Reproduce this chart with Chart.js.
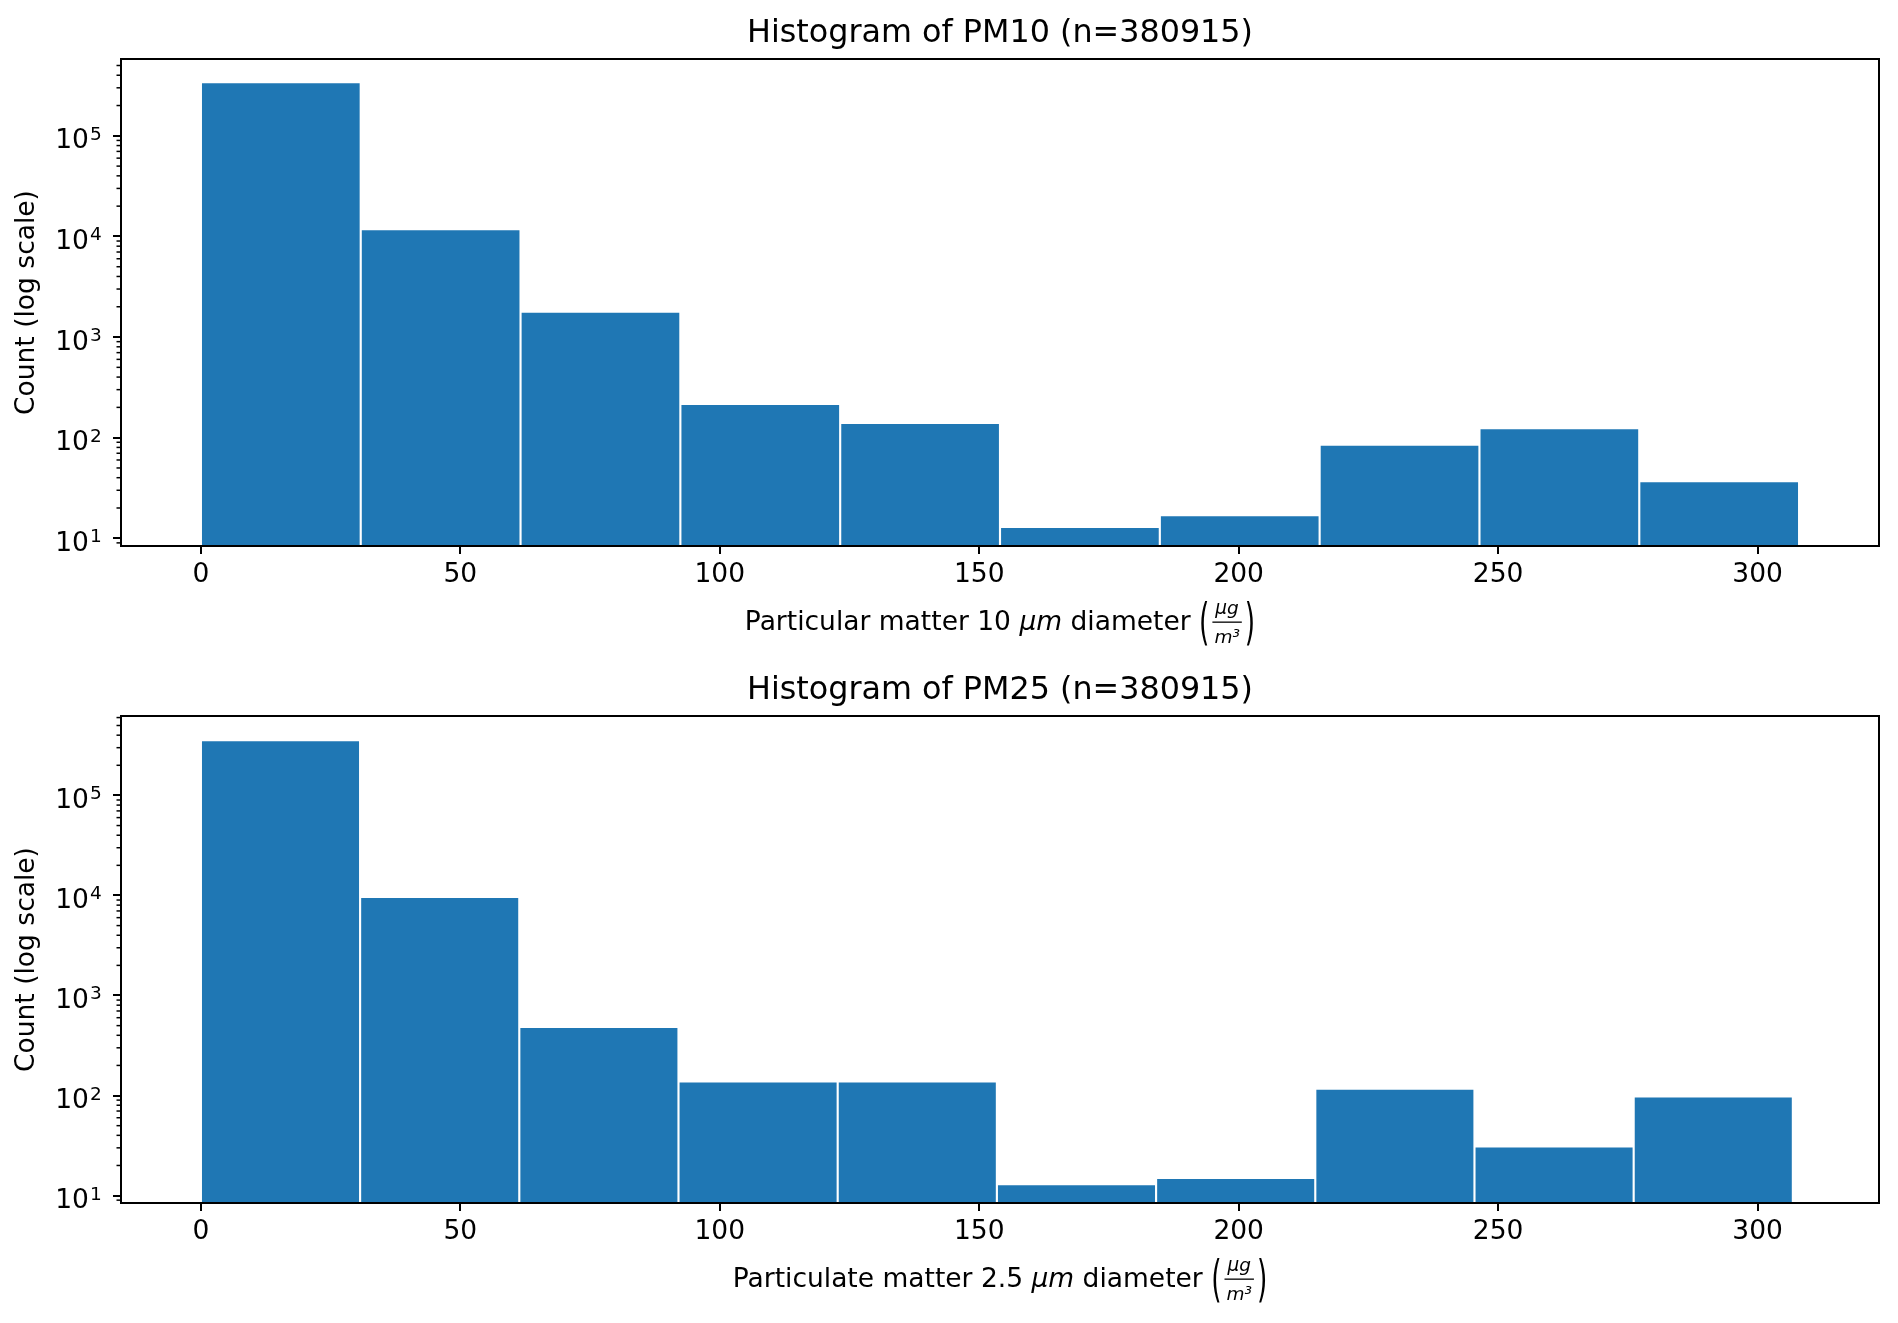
<!DOCTYPE html>
<html>
<head>
<meta charset="utf-8">
<script src="https://cdn.jsdelivr.net/npm/chart.js@4.4.1/dist/chart.umd.min.js"></script>
<style>
  html, body { margin: 0; padding: 0; background: #fff; overflow: hidden; }
  #wrap { position: relative; width: 1898px; height: 1323px; }
  .box { position: absolute; left: 0; width: 1898px; }
</style>
</head>
<body>
<div id="wrap">
  <div class="box" style="top:0;height:660px"><canvas id="pm10"></canvas></div>
  <div class="box" style="top:660px;height:663px"><canvas id="pm25"></canvas></div>
</div>
<script>
// tick values
const xTicks = [0, 50, 100, 150, 200, 250, 300];
const yTicks = [10, 100, 1000, 10000, 100000];

// PM10 histogram (bin edges + counts)
const pm10Edges = [0, 30.8, 61.6, 92.4, 123.2, 154.0, 184.8, 215.6, 246.4, 277.2, 308.0];
const pm10Counts = [342000, 11800, 1790, 216, 140, 13, 17, 85, 124, 37];

// PM2.5 histogram
const pm25Edges = [0, 30.68, 61.36, 92.04, 122.72, 153.4, 184.08, 214.76, 245.44, 276.12, 306.8];
const pm25Counts = [356000, 9690, 486, 138, 138, 13, 15, 117, 31, 98];

const FONT = '"DejaVu Sans"';
Chart.defaults.color = '#000';
Chart.defaults.font.family = FONT;

function drawParen(ctx, ch, x, baseline) {
  ctx.save();
  ctx.font = '26.5px ' + FONT;
  ctx.textAlign = 'left';
  ctx.textBaseline = 'middle';
  ctx.translate(x, baseline - 4.5);
  ctx.scale(1, 1.9);
  ctx.fillText(ch, 0, 0);
  ctx.restore();
}

function drawXLabel(ctx, cx, baseline, prefix) {
  const normal = '26.5px ' + FONT;
  const ital = 'italic 26.5px ' + FONT;
  const small = 'italic 18.5px ' + FONT;
  ctx.font = normal;
  const w1 = ctx.measureText(prefix).width;
  const w3 = ctx.measureText(' diameter ').width;
  const wp = ctx.measureText('(').width;
  ctx.font = ital;
  const w2 = ctx.measureText('\u03bcm').width;
  ctx.font = small;
  const fw = Math.max(ctx.measureText('\u03bcg').width, ctx.measureText('m\u00b3').width) + 6;
  const total = w1 + w2 + w3 + wp + 2 + fw + 2 + wp;
  let x = cx - total / 2;
  ctx.textAlign = 'left';
  ctx.textBaseline = 'alphabetic';
  ctx.font = normal; ctx.fillText(prefix, x, baseline); x += w1;
  ctx.font = ital; ctx.fillText('\u03bcm', x, baseline); x += w2;
  ctx.font = normal; ctx.fillText(' diameter ', x, baseline); x += w3;
  drawParen(ctx, '(', x, baseline); x += wp + 2;
  ctx.font = small;
  ctx.textAlign = 'center';
  ctx.fillText('\u03bcg', x + fw / 2, baseline - 16);
  ctx.fillText('m\u00b3', x + fw / 2, baseline + 13);
  ctx.fillRect(x + 1, baseline - 8.5, fw - 2, 1.3);
  x += fw + 2;
  drawParen(ctx, ')', x, baseline);
}

// y tick labels as 10 with a raised exponent
function drawYLabels(ctx, scale, right) {
  ctx.textBaseline = 'alphabetic';
  ctx.textAlign = 'left';
  for (const v of yTicks) {
    const py = scale.getPixelForValue(v);
    const exp = String(Math.round(Math.log10(v)));
    ctx.font = '26.5px ' + FONT;
    const wMain = ctx.measureText('10').width;
    ctx.font = '18.5px ' + FONT;
    const wExp = ctx.measureText(exp).width;
    const x0 = right - wMain - wExp - 1;
    ctx.font = '26.5px ' + FONT;
    ctx.fillText('10', x0, py + 12.6);
    ctx.font = '18.5px ' + FONT;
    ctx.fillText(exp, x0 + wMain + 1, py + 4);
  }
}

// frame, minor ticks, title and x label
const framePlugin = {
  id: 'frame',
  afterDatasetsDraw(chart, args, opts) {
    const { ctx, chartArea: a } = chart;
    const y = chart.scales.y;
    ctx.save();
    ctx.strokeStyle = '#000';
    ctx.fillStyle = '#000';
    ctx.lineWidth = 1.5;
    for (let k = 0; k < 6; k++) {
      for (let m = 2; m <= 9; m++) {
        const v = m * Math.pow(10, k);
        if (v < y.min || v > y.max) continue;
        const py = y.getPixelForValue(v);
        ctx.beginPath();
        ctx.moveTo(a.left - 4.5, py);
        ctx.lineTo(a.left, py);
        ctx.stroke();
      }
    }
    ctx.lineWidth = 2;
    ctx.strokeRect(a.left, a.top, a.right - a.left, a.bottom - a.top);

    drawYLabels(ctx, y, a.left - 19.3);

    ctx.font = '31.8px ' + FONT;
    ctx.textAlign = 'center';
    ctx.textBaseline = 'alphabetic';
    ctx.fillText(opts.title, (a.left + a.right) / 2, a.top - 17);

    drawXLabel(ctx, (a.left + a.right) / 2, a.bottom + 84, opts.xPrefix);
    ctx.restore();
  }
};

function makeHist(id, edges, counts, yMin, yMax, padTop, xAxisH, title, xPrefix) {
  const points = counts.map((c, i) => ({ x: (edges[i] + edges[i + 1]) / 2, y: c }));
  return new Chart(document.getElementById(id), {
    type: 'bar',
    data: {
      datasets: [{
        data: points,
        backgroundColor: '#1f77b4',
        borderColor: '#ffffff',
        borderWidth: 1.4,
        barPercentage: 1,
        categoryPercentage: 1
      }]
    },
    options: {
      responsive: true,
      maintainAspectRatio: false,
      animation: false,
      layout: { padding: { top: padTop, right: 19, left: 0, bottom: 0 } },
      plugins: {
        legend: { display: false },
        tooltip: { enabled: false },
        frame: { title: title, xPrefix: xPrefix }
      },
      scales: {
        x: {
          type: 'linear',
          min: -15.4,
          max: 323.4,
          offset: false,
          bounds: 'data',
          grid: { offset: false, drawOnChartArea: false, color: '#000', lineWidth: 2, tickLength: 8 },
          border: { display: false },
          ticks: { autoSkip: false, maxRotation: 0, padding: 5.6, font: { size: 26.5 } },
          afterBuildTicks: s => { s.ticks = xTicks.map(v => ({ value: v })); },
          afterFit: s => { s.height = xAxisH; }
        },
        y: {
          type: 'logarithmic',
          min: yMin,
          max: yMax,
          bounds: 'data',
          grid: { drawOnChartArea: false, color: '#000', lineWidth: 2, tickLength: 8 },
          border: { display: false },
          ticks: { display: false, autoSkip: false },
          title: { display: true, text: 'Count (log scale)', font: { size: 26.5 }, padding: { top: 11, bottom: 0 } },
          afterBuildTicks: s => { s.ticks = yTicks.map(v => ({ value: v })); },
          afterFit: s => { s.width = 121; }
        }
      }
    },
    plugins: [framePlugin]
  });
}

makeHist('pm10', pm10Edges, pm10Counts, 8.38, 580000, 59, 114,
  'Histogram of PM10 (n=380915)', 'Particular matter 10 ');
makeHist('pm25', pm25Edges, pm25Counts, 8.43, 622000, 56, 120,
  'Histogram of PM25 (n=380915)', 'Particulate matter 2.5 ');
</script>
</body>
</html>
